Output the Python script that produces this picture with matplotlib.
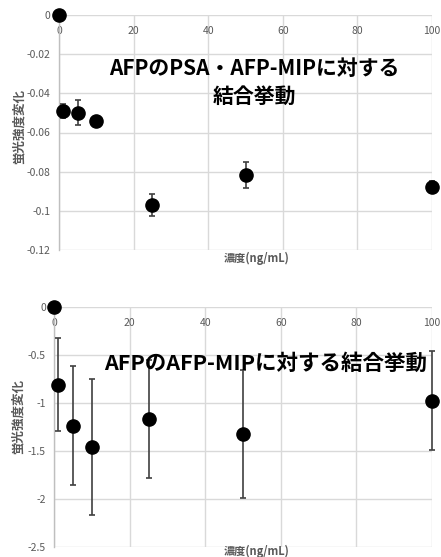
import numpy as np
import matplotlib.pyplot as plt

plt.rcParams['font.family'] = ['Noto Sans CJK JP', 'DejaVu Sans']

# concentrations (ng/mL)
conc = [0, 1, 5, 10, 25, 50, 100]

# top chart: PSA / AFP-MIP
psa_mean = [0, -0.0489, -0.0499, -0.0541, -0.0969, -0.0817, -0.0877]
psa_err = [0, 0.0035, 0.0065, 0, 0.0055, 0.0067, 0.003]
psa_yticks = [0, -0.02, -0.04, -0.06, -0.08, -0.1, -0.12]
psa_ylabels = ['0', '-0.02', '-0.04', '-0.06', '-0.08', '-0.1', '-0.12']

# bottom chart: AFP-MIP
afp_mean = [0, -0.81, -1.236, -1.455, -1.166, -1.323, -0.975]
afp_err = [0, 0.485, 0.62, 0.71, 0.62, 0.67, 0.52]
afp_yticks = [0, -0.5, -1, -1.5, -2, -2.5]
afp_ylabels = ['0', '-0.5', '-1', '-1.5', '-2', '-2.5']

xticks = [0, 20, 40, 60, 80, 100]

W, H = 441, 557
fig = plt.figure(figsize=(W / 100, H / 100), dpi=100)

def make_axes(l, r, t, b):
    return fig.add_axes([l / W, 1 - b / H, (r - l) / W, (b - t) / H])

def style(ax, yticks, ylabels, ymin):
    ax.set_xlim(0, 100)
    ax.set_ylim(ymin, 0)
    ax.set_xticks(xticks)
    ax.set_yticks(yticks)
    ax.set_yticklabels(ylabels)
    for s in ['top', 'right', 'bottom']:
        ax.spines[s].set_visible(False)
    ax.spines['left'].set_color('#bfbfbf')
    ax.spines['left'].set_linewidth(1.0)
    ax.grid(True, color='#d9d9d9', linewidth=1.0)
    ax.set_axisbelow(True)
    ax.tick_params(length=0, labelsize=7.5, colors='#595959')
    ax.tick_params(axis='y', pad=6)
    ax.xaxis.tick_top()
    ax.tick_params(axis='x', pad=-15)
    for lab in ax.get_xticklabels():
        lab.set_clip_on(False)

def plot_points(ax, y, err):
    ax.errorbar(conc, y, yerr=err, fmt='o', color='black', markersize=9.5,
                ecolor='#404040', elinewidth=1.2, capsize=2.5, capthick=1.2,
                clip_on=False, zorder=3)

ax1 = make_axes(59, 432, 15, 250)
style(ax1, psa_yticks, psa_ylabels, -0.12)
plot_points(ax1, psa_mean, psa_err)
ax1.text(0.525, 0.713, 'AFPのPSA・AFP-MIPに対する\n結合挙動', transform=ax1.transAxes,
         ha='center', va='center', fontsize=15, fontweight='bold',
         color='black', linespacing=1.4, zorder=5)
fig.text(257 / W, 1 - 258 / H, '濃度(ng/mL)', ha='center', va='center',
         fontsize=8, fontweight='bold', color='#595959')
fig.text(19 / W, 1 - 126 / H, '蛍光強度変化', ha='center', va='center',
         rotation=90, fontsize=9, fontweight='bold', color='#595959')

ax2 = make_axes(54.3, 432, 307.3, 546.7)
style(ax2, afp_yticks, afp_ylabels, -2.5)
plot_points(ax2, afp_mean, afp_err)
ax2.text(0.56, 0.767, 'AFPのAFP-MIPに対する結合挙動', transform=ax2.transAxes,
         ha='center', va='center', fontsize=15.5, fontweight='bold',
         color='black', zorder=5)
fig.text(257 / W, 1 - 551 / H, '濃度(ng/mL)', ha='center', va='center',
         fontsize=8, fontweight='bold', color='#595959')
fig.text(18 / W, 1 - 417 / H, '蛍光強度変化', ha='center', va='center',
         rotation=90, fontsize=9, fontweight='bold', color='#595959')

fig.savefig('out.png', dpi=100)
